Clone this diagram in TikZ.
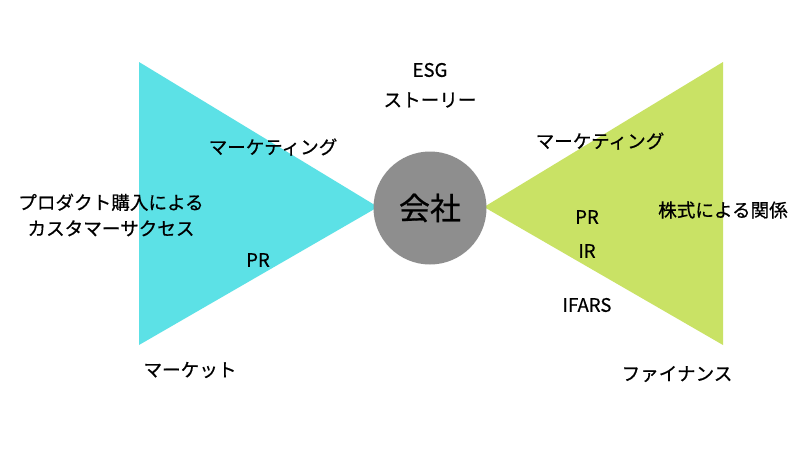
\documentclass[tikz,border=0pt]{standalone}
\usepackage{fontspec}
\setmainfont{Noto Sans CJK JP}[FakeBold=0.6]
\definecolor{cyanT}{HTML}{5CE1E6}
\definecolor{greenT}{HTML}{C9E265}
\definecolor{grayC}{HTML}{8E8E8E}
\begin{document}
\begin{tikzpicture}[x=1pt,y=-1pt,
  lbl/.style={font=\fontsize{18.6}{26}\selectfont, inner sep=0pt, align=center}]
\useasboundingbox (0,0) rectangle (800,450);
\fill[white] (0,0) rectangle (800,450);
\coordinate (lt) at (139,62);
\coordinate (lb) at (139,345);
\coordinate (la) at (378,207);
\coordinate (rt) at (723,62);
\coordinate (rb) at (723,345);
\coordinate (ra) at (484,207);
\fill[cyanT] (lt) -- (la) -- (lb) -- cycle;
\fill[greenT] (rt) -- (ra) -- (rb) -- cycle;
\node[circle, fill=grayC, minimum size=113pt, inner sep=0pt,
  font=\fontsize{31}{34}\selectfont] (co) at (430,208) {会社};
\node[lbl] (esg) at (430,70) {ESG};
\node[lbl] (story) at (430,100) {ストーリー};
\node[lbl] (lmkt) at (273,147) {マーケティング};
\node[lbl] (prod) at (111,215) {プロダクト購入による\\カスタマーサクセス};
\node[lbl] (lpr) at (258,260) {PR};
\node[lbl] (market) at (190,370) {マーケット};
\node[lbl] (rmkt) at (600,141) {マーケティング};
\node[lbl] (rpr) at (587,217) {PR};
\node[lbl] (rir) at (587,251) {IR};
\node[lbl] (ifars) at (587,305) {IFARS};
\node[lbl] (stock) at (723,210) {株式による関係};
\node[lbl] (fin) at (677,374) {ファイナンス};
\end{tikzpicture}
\end{document}
